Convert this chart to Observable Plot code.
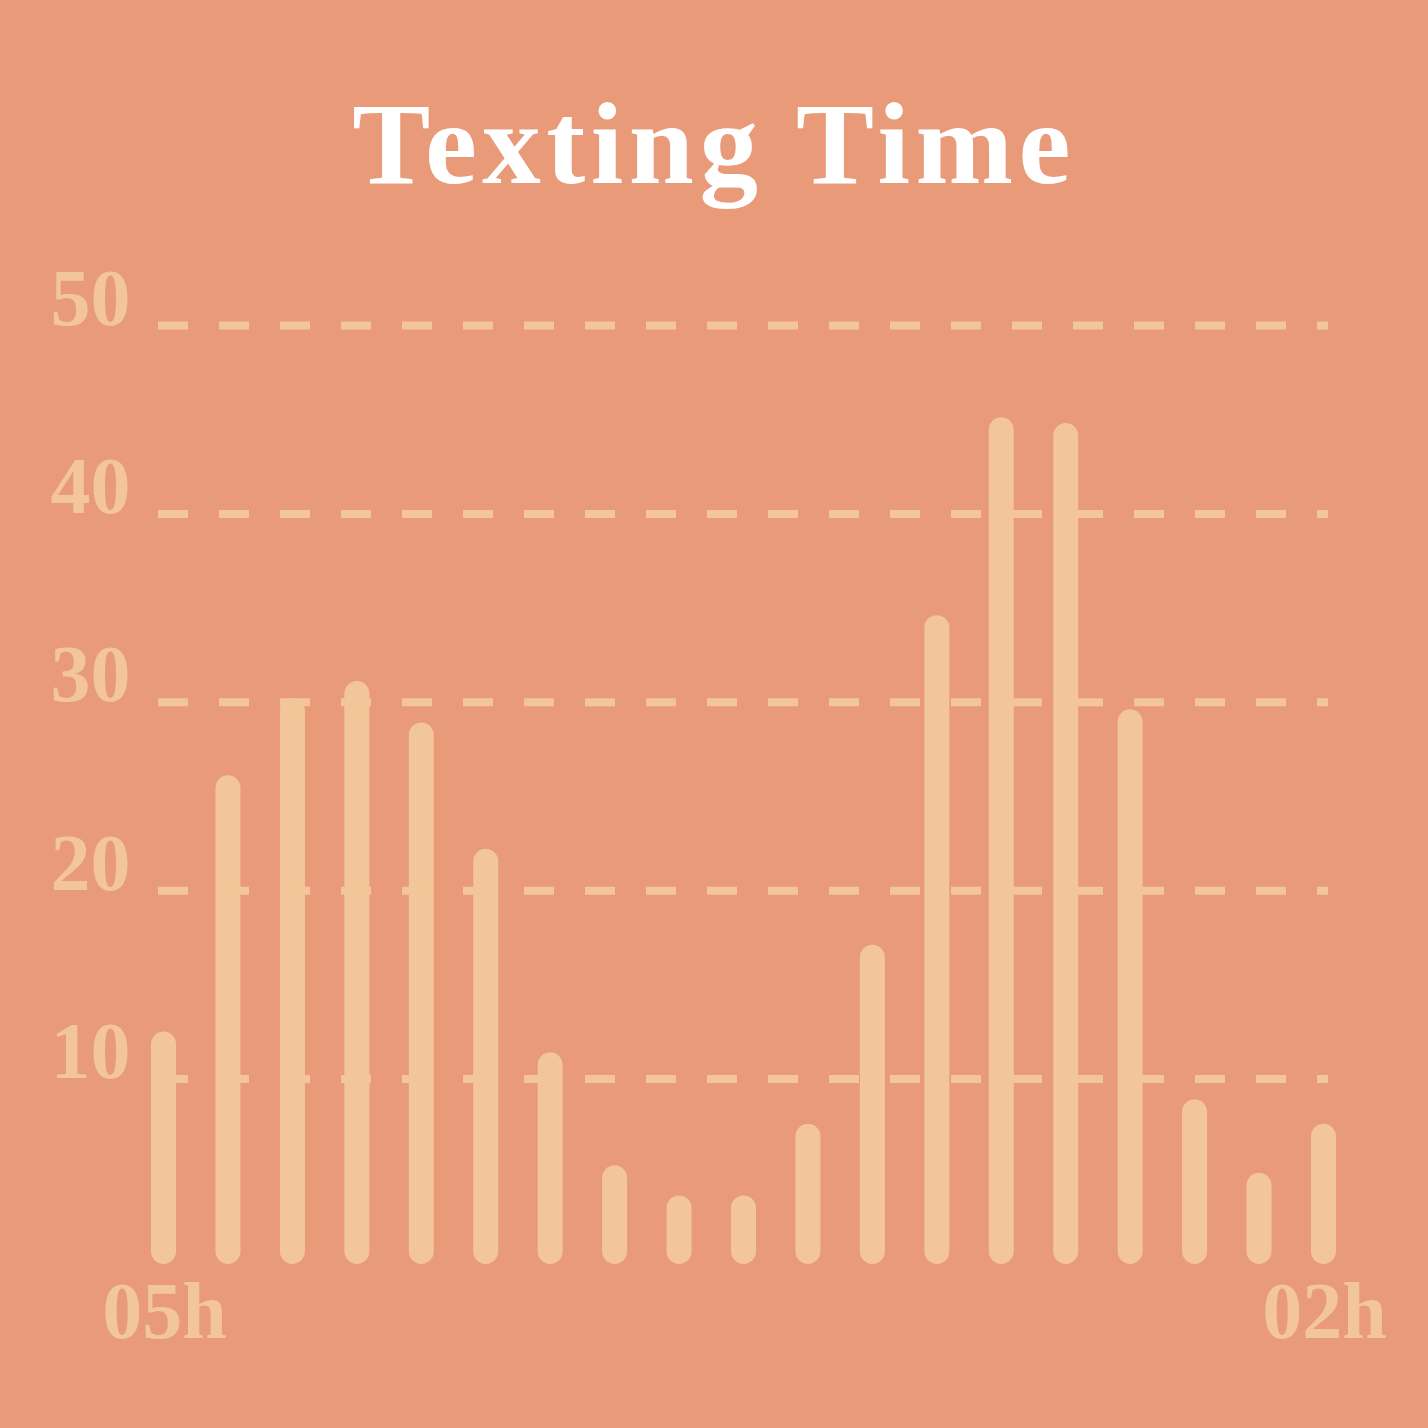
<!DOCTYPE html>
<html>
<head>
<meta charset="utf-8">
<script src="https://cdn.jsdelivr.net/npm/d3@7"></script>
<script src="https://cdn.jsdelivr.net/npm/@observablehq/plot@0.6"></script>
<style>
  html, body { margin: 0; padding: 0; background: #E89A79; }
  #wrap { width: 1428px; height: 1428px; background: #E89A79; overflow: hidden; }
  #title { height: 230px; margin: 0; font-family: "Liberation Serif", serif; font-weight: bold;
    font-size: 117px; letter-spacing: 5.5px; color: #ffffff; text-align: center; line-height: 1;
    padding-top: 85px; box-sizing: border-box; }
</style>
</head>
<body>
<div id="wrap">
  <div id="title">Texting Time</div>
  <div id="chart"></div>
</div>
<script>
const hours = ["05h","06h","07h","08h","09h","10h","11h","12h","13h","14h","15h","16h","17h","18h","19h","20h","21h","22h","02h"];
const values = [12.5, 26.1, 30.2, 31.1, 28.9, 22.2, 11.4, 5.4, 3.8, 3.8, 7.6, 17.1, 34.6, 45.1, 44.8, 29.6, 8.9, 5.0, 7.6];
const yTicks = [10, 20, 30, 40, 50];
const xTickLabels = ["05h", "02h"];

const data = hours.map((h, i) => ({hour: h, value: values[i]}));
const barColor = "#F3C699";
const font = "Liberation Serif, serif";

const chart = Plot.plot({
  width: 1428,
  height: 1198,
  marginTop: 95,
  marginBottom: 161,
  marginLeft: 158,
  marginRight: 100,
  style: {background: "transparent", fontFamily: font},
  x: {type: "point", domain: hours, padding: 0.078, round: false, axis: null},
  y: {domain: [0, 50], axis: null},
  marks: [
    Plot.ruleX(data, {x: "hour", y1: "value", y2: 0, stroke: barColor, strokeWidth: 25,
      strokeLinecap: "round", insetTop: 12.5, insetBottom: 15.5}),
    Plot.ruleY(yTicks, {stroke: barColor, strokeWidth: 8, strokeDasharray: "30,31"}),
    Plot.text(yTicks, {y: d => d, text: d => String(d), frameAnchor: "left", dx: -108,
      textAnchor: "start", lineAnchor: "bottom", dy: -1, fill: barColor, fontSize: 80,
      fontWeight: "bold", fontFamily: font}),
    Plot.text(xTickLabels, {x: d => d, y: 0, text: d => d, lineAnchor: "bottom", dy: 70,
      dx: 1, fill: barColor, fontSize: 80, fontWeight: "bold", fontFamily: font})
  ]
});
document.getElementById("chart").appendChild(chart);
</script>
</body>
</html>
